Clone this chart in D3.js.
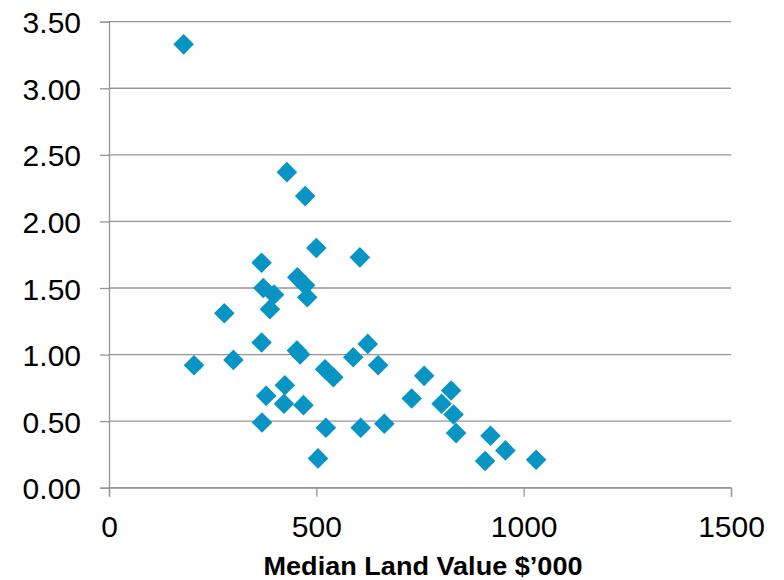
<!DOCTYPE html>
<html>
<head>
<meta charset="utf-8">
<script src="https://cdn.jsdelivr.net/npm/d3@7"></script>
<style>
  html, body { margin: 0; padding: 0; background: #ffffff; }
  svg { display: block; }
  text { font-family: "Liberation Sans", Arial, sans-serif; fill: #000; }
</style>
</head>
<body>
<svg id="chart" width="784" height="580"></svg>
<script>
// Data: median land value ($'000) and the corresponding ratio
const landValue = [180, 429, 473, 500, 605, 368, 454, 473, 478, 372, 398, 388, 278, 368,
                   453, 461, 624, 589, 649, 205, 300, 521, 541, 760, 424, 379, 422, 469,
                   730, 825, 802, 831, 837, 920, 956, 907, 1030, 369, 523, 607, 664, 504];
const ratio     = [3.33, 2.37, 2.19, 1.80, 1.73, 1.69, 1.58, 1.52, 1.43, 1.50, 1.45, 1.34, 1.31, 1.09,
                   1.03, 1.00, 1.08, 0.98, 0.92, 0.92, 0.96, 0.89, 0.83, 0.84, 0.77, 0.69, 0.63, 0.62,
                   0.67, 0.73, 0.63, 0.55, 0.41, 0.39, 0.28, 0.20, 0.21, 0.49, 0.45, 0.45, 0.48, 0.22];
const xTicks = [0, 500, 1000, 1500];
const yTicks = [0, 0.5, 1.0, 1.5, 2.0, 2.5, 3.0, 3.5];
const xTitle = "Median Land Value $\u2019000";

(function () {
const svg = d3.select("#chart");
const pLeft = 109, pRight = 731, pTop = 21.7, pBottom = 487.7;
const x = d3.scaleLinear().domain([0, 1500]).range([pLeft, pRight]);
const y = d3.scaleLinear().domain([0, 3.5]).range([pBottom, pTop]);

const gridColor = "#969696";

// horizontal gridlines
svg.append("g").selectAll("line").data(yTicks).join("line")
  .attr("x1", pLeft).attr("x2", pRight)
  .attr("y1", d => y(d)).attr("y2", d => y(d))
  .attr("stroke", gridColor).attr("stroke-width", 1.3);

// y axis
const yAxis = svg.append("g").attr("transform", `translate(${pLeft},0)`)
  .call(d3.axisLeft(y).tickValues(yTicks).tickFormat(d3.format(".2f")).tickSize(9).tickPadding(19));
yAxis.select(".domain").attr("stroke", gridColor).attr("stroke-width", 1.3);
yAxis.selectAll(".tick line").attr("stroke", gridColor).attr("stroke-width", 1.3);
yAxis.selectAll(".tick text")
  .attr("font-family", "'Liberation Sans', Arial, sans-serif")
  .attr("font-size", 30).attr("fill", "#000").attr("dy", "0.37em");

// x axis
const xAxis = svg.append("g").attr("transform", `translate(0,${pBottom})`)
  .call(d3.axisBottom(x).tickValues(xTicks).tickFormat(d3.format("d")).tickSize(9).tickPadding(19));
xAxis.select(".domain").attr("stroke", gridColor).attr("stroke-width", 1.3);
xAxis.selectAll(".tick line").attr("stroke", gridColor).attr("stroke-width", 1.3);
xAxis.selectAll(".tick text")
  .attr("font-family", "'Liberation Sans', Arial, sans-serif")
  .attr("font-size", 30).attr("fill", "#000").attr("dy", "0.71em");

// x title
svg.append("text")
  .attr("x", 423).attr("y", 574.5)
  .attr("text-anchor", "middle")
  .attr("font-weight", "bold").attr("font-size", 26)
  .attr("textLength", 319).attr("lengthAdjust", "spacingAndGlyphs")
  .text(xTitle);

// points (diamonds)
const pts = landValue.map((v, i) => ({ v, r: ratio[i] }));
const sym = d3.symbol().type(d3.symbolSquare).size(212);
svg.append("g").selectAll("path").data(pts).join("path")
  .attr("d", sym)
  .attr("transform", d => `translate(${x(d.v)},${y(d.r)}) rotate(45)`)
  .attr("fill", "#0895c3");
})();
</script>
</body>
</html>
